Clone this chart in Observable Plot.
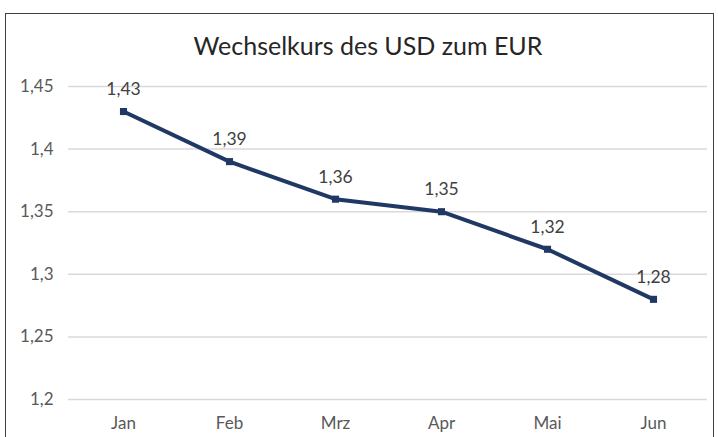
<!DOCTYPE html>
<html><head><meta charset="utf-8">
<script src="https://cdn.jsdelivr.net/npm/d3@7"></script>
<script src="https://cdn.jsdelivr.net/npm/@observablehq/plot@0.6"></script>
<style>
html,body{margin:0;padding:0;background:#fff;}
#wrap{position:relative;width:718px;height:437px;overflow:hidden;font-family:Lato,"Open Sans",sans-serif;}
#border{position:absolute;left:5px;top:13px;width:709px;height:440px;border:1.5px solid #404040;box-sizing:border-box;}
#title{position:absolute;left:0;width:736px;top:30px;text-align:center;font-size:25px;color:#262626;font-weight:400;}
#chart{position:absolute;left:0;top:0;}
</style></head>
<body>
<div id="wrap"><div id="border"></div><div id="title">Wechselkurs des USD zum EUR</div><div id="chart"></div></div>
<script>
const months = ["Jan","Feb","Mrz","Apr","Mai","Jun"];
const rates = [1.43,1.39,1.36,1.35,1.32,1.28];
const yTicks = [1.2,1.25,1.3,1.35,1.4,1.45];
const yTickLabels = ["1,2","1,25","1,3","1,35","1,4","1,45"];
const data = months.map((m,i)=>({month:m, rate:rates[i], label:String(rates[i]).replace(".",",")}));
const yFmt = (d)=>yTickLabels[yTicks.findIndex(t=>Math.abs(t-d)<1e-9)];
const chart = Plot.plot({
  width:718, height:437,
  marginLeft:68, marginRight:11, marginTop:86, marginBottom:38,
  style:{fontFamily:"Lato, 'Open Sans', sans-serif", fontSize:"17px", color:"#595959", background:"transparent"},
  x:{type:"band", domain:months, padding:0},
  y:{domain:[1.2,1.45]},
  marks:[
    Plot.ruleY(yTicks,{stroke:"#d9d9d9", strokeWidth:1.5}),
    Plot.axisX({tickSize:0, tickPadding:17, label:null, fontSize:17, fill:"#595959"}),
    Plot.axisY({ticks:yTicks, tickFormat:yFmt, tickSize:0, tickPadding:15, label:null, fontSize:17, fill:"#595959"}),
    Plot.line(data,{x:"month", y:"rate", stroke:"#203864", strokeWidth:4}),
    Plot.dot(data,{x:"month", y:"rate", symbol:"square", r:4, fill:"#203864", stroke:"none"}),
    Plot.text(data,{x:"month", y:"rate", text:"label", dy:-22, fill:"#404040", fontSize:17.5})
  ]
});
document.getElementById("chart").append(chart);
</script>
</body></html>
